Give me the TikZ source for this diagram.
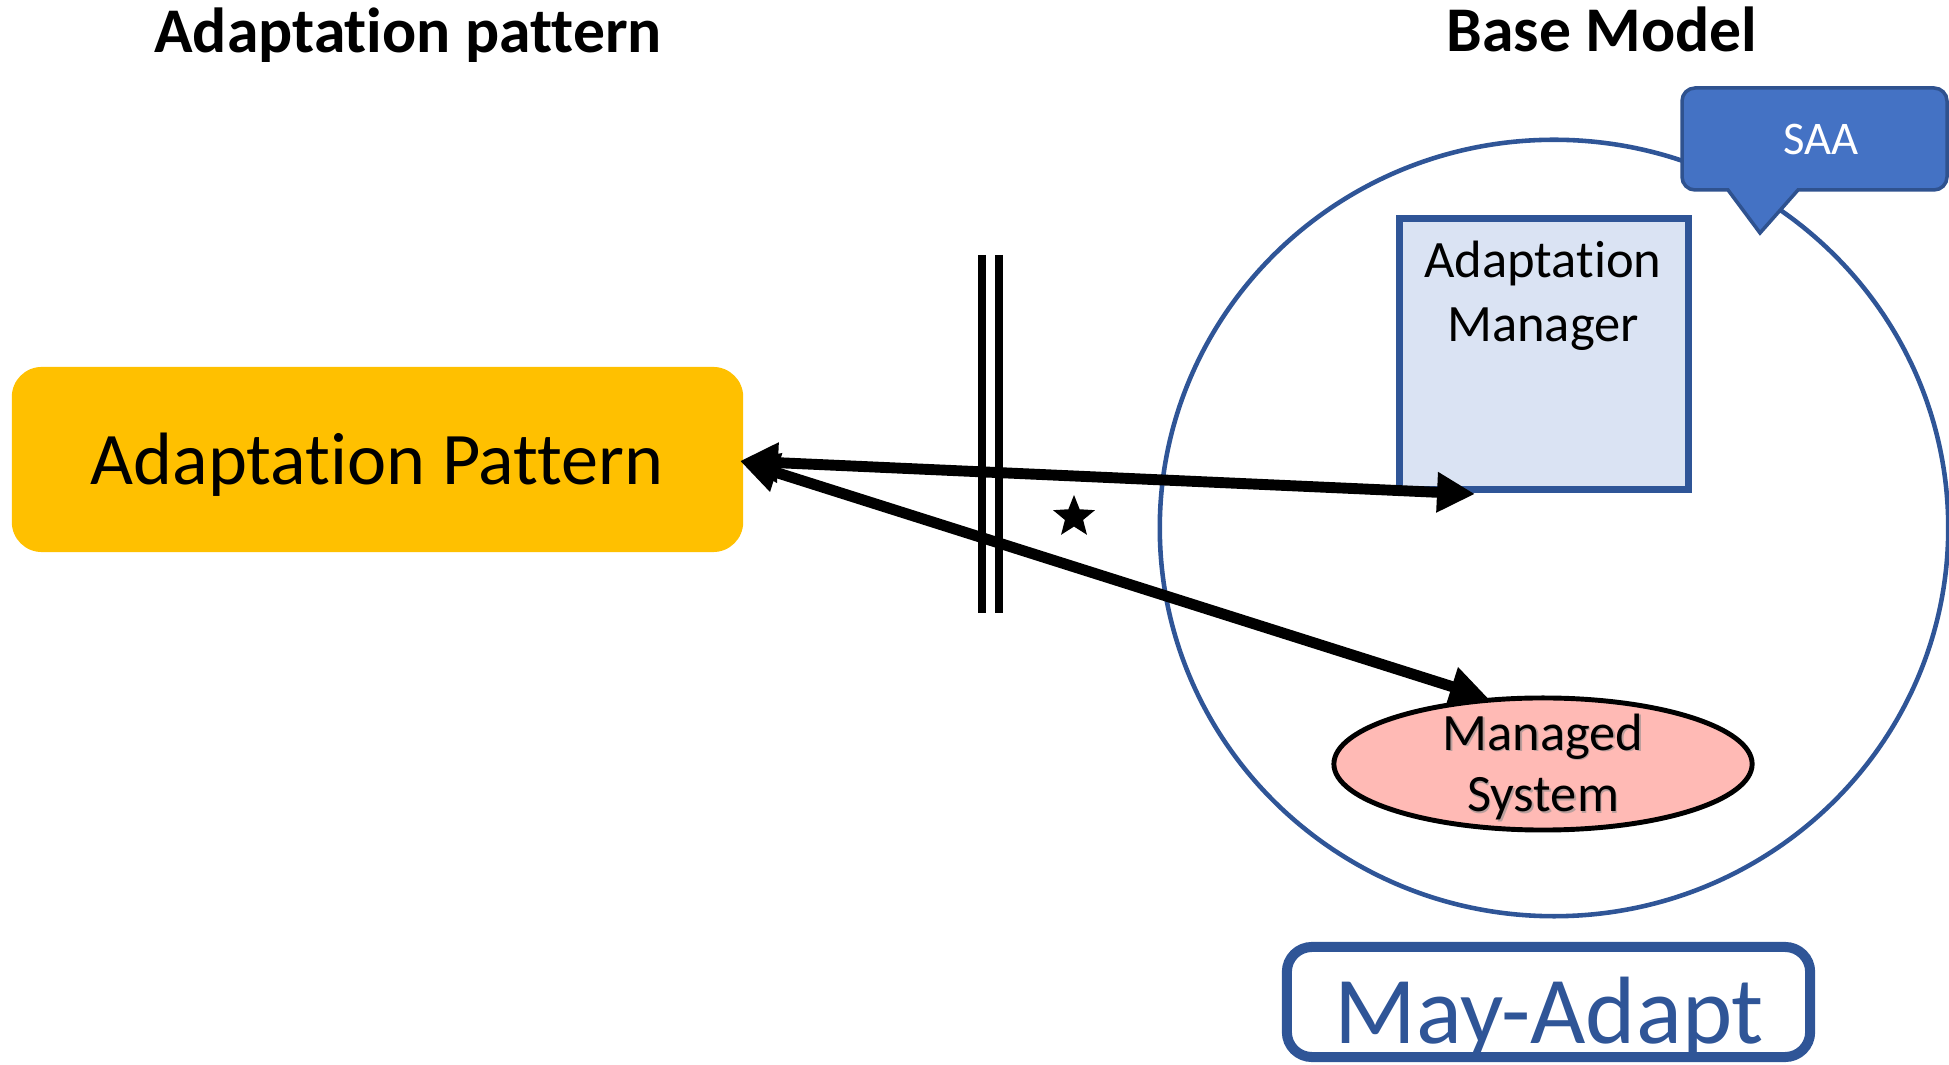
\documentclass[tikz,border=0pt]{standalone}
\usepackage{fontspec}
\setmainfont{Carlito}[Ligatures=NoCommon, Contextuals=NoAlternate]
\usetikzlibrary{arrows.meta,shapes.geometric}
\definecolor{patyellow}{HTML}{FFC000}
\definecolor{bmblue}{HTML}{2F5597}
\definecolor{mgrfill}{HTML}{DAE3F3}
\definecolor{mspink}{HTML}{FFBAB5}
\definecolor{saafill}{HTML}{4472C4}
\definecolor{saaedge}{HTML}{2F528F}
\begin{document}
\begin{tikzpicture}[x=0.01cm,y=-0.01cm,
  title/.style={font=\fontsize{18.1}{21.7}\selectfont\bfseries, anchor=base, inner sep=0},
  patbox/.style={fill=patyellow, rounded corners=0.3cm, minimum width=7.31cm, minimum height=1.85cm, inner sep=0},
  bigtext/.style={font=\fontsize{21.1}{25}\selectfont, anchor=base, inner sep=0},
  mgrbox/.style={draw=bmblue, line width=2pt, fill=mgrfill, minimum width=2.89cm, minimum height=2.71cm, inner sep=0},
  body/.style={font=\fontsize{14.94}{18.2}\selectfont, align=center, anchor=base, inner sep=0},
  msys/.style={ellipse, draw=black, line width=1.4pt, fill=mspink, minimum width=4.18cm, minimum height=1.32cm, inner sep=0},
  modelring/.style={draw=bmblue, line width=1.3pt},
  conn/.style={line width=3.1pt, {Triangle[length=10.8pt,width=10.8pt]}-{Triangle[length=10.8pt,width=10.8pt]}},
  barline/.style={line width=2.2pt},
  saabubble/.style={fill=saafill, draw=saaedge, line width=1pt},
  mayadapt/.style={draw=bmblue, line width=2.85pt, rounded corners=0.25cm, minimum width=5.23cm, minimum height=1.1cm, inner sep=0},
  startag/.style={star, star points=5, star point ratio=2.3, fill=black, minimum size=0.44cm, inner sep=0}
]
\useasboundingbox (0,0) rectangle (1949,1065);

% column headings
\node[title] (h1) at (408,53) {Adaptation pattern};
\node[title] (h2) at (1602,52) {Base Model};

% adaptation pattern block
\node[patbox] (pat) at (377.5,459.5) {};
\node[bigtext] (patT) at (377,485) {Adaptation Pattern};

% base model ring
\draw[modelring] (1554,528) ellipse [x radius=3.94cm, y radius=3.88cm];

% SAA callout
\path[saabubble] (1760,233) -- (1798,190) [rounded corners=0.13cm] -- (1947,190) -- (1947,88) -- (1682,88) -- (1682,190) [sharp corners] -- (1728,190) -- cycle;
\node[font=\fontsize{13.3}{16}\selectfont, text=white, anchor=base, inner sep=0] (saa) at (1821,155) {SAA};

% adaptation manager
\node[mgrbox] (am) at (1544,354) {};
\node[body] (amT) at (1543,342) {Adaptation\\Manager};

% managed system (text carries a soft shadow)
\node[msys] (ms) at (1543,764) {};
\node[body, font=\fontsize{14.94}{17.6}\selectfont, text=black!45, opacity=0.6] at (1544.5,813.5) {Managed\\System};
\node[body, font=\fontsize{14.94}{17.6}\selectfont] (msT) at (1543,812) {Managed\\System};

% may-adapt label
\node[mayadapt] (may) at (1548.5,1002) {};
\node[font=\fontsize{27.2}{32}\selectfont, text=bmblue, anchor=base, inner sep=0] (mayT) at (1549,1043) {May-Adapt};

% separator bars
\coordinate (b1t) at (982,255);
\coordinate (b1b) at (982,613);
\coordinate (b2t) at (999,255);
\coordinate (b2b) at (999,613);
\draw[barline] (b1t) -- (b1b);
\draw[barline] (b2t) -- (b2b);

% star mark
\node[startag] (mark) at (1074,517) {};

% connectors
\coordinate (amIn) at (1475,494);
\coordinate (msIn) at (1488,698);
\coordinate (patIn) at (740,461);
\draw[conn] (patIn) -- (amIn);
\draw[conn] (patIn) -- (msIn);
\end{tikzpicture}
\end{document}
